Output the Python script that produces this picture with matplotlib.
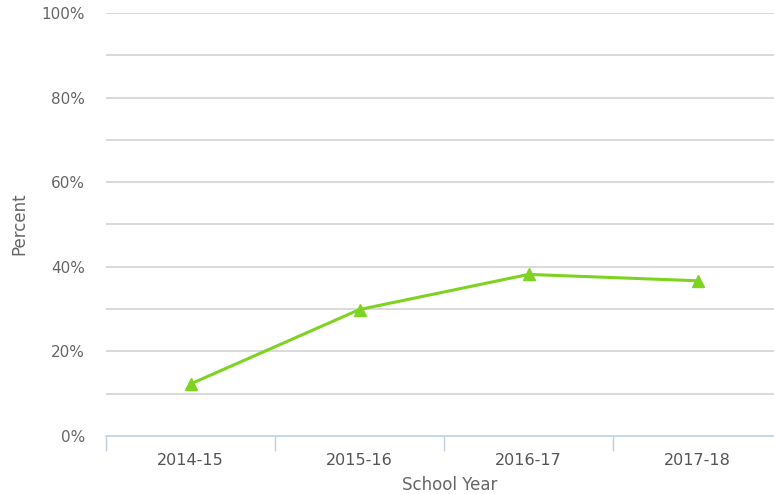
import matplotlib.pyplot as plt
import numpy as np

# data
years = ['2014-15', '2015-16', '2016-17', '2017-18']
percent = [12.3, 29.9, 38.2, 36.7]
y_ticks = [0, 20, 40, 60, 80, 100]

fig = plt.figure(figsize=(7.74, 4.94), dpi=100)
ax = fig.add_axes([106 / 774, 1 - 436 / 494, 676 / 774, (436 - 13) / 494])

x = np.arange(len(years))
ax.plot(x, percent, color='#7ed321', lw=2.2, marker='^', markersize=9, zorder=3, clip_on=False)

ax.set_xlim(-0.5, len(years) - 0.5)
ax.set_ylim(0, 100)

# gridlines every 10%, labels every 20%
for g in range(10, 101, 10):
    ax.axhline(g, color='#d3d3d3', lw=1.2, zorder=1)
ax.set_yticks(y_ticks)
ax.set_yticklabels([f'{t}%' for t in y_ticks], color='#666666', fontsize=11)
ax.tick_params(axis='y', length=0, pad=15)

ax.set_xticks(x)
ax.set_xticklabels(years, color='#555555', fontsize=11.5)
ax.tick_params(axis='x', length=0, pad=12)
# category boundary ticks
ax.set_xticks(np.arange(-0.5, len(years), 1.0), minor=True)
ax.tick_params(axis='x', which='minor', length=11, color='#c0d0e0', width=1)

for s in ['top', 'right', 'left']:
    ax.spines[s].set_visible(False)
ax.spines['bottom'].set_color('#c0d0e0')
ax.spines['bottom'].set_linewidth(1.2)

fig.text(450 / 774, 1 - 485 / 494, 'School Year', ha='center', va='center', color='#666666', fontsize=12)
fig.text(19 / 774, 1 - 224 / 494, 'Percent', ha='center', va='center', rotation=90, color='#666666', fontsize=12)

fig.savefig('out.png', dpi=100)
